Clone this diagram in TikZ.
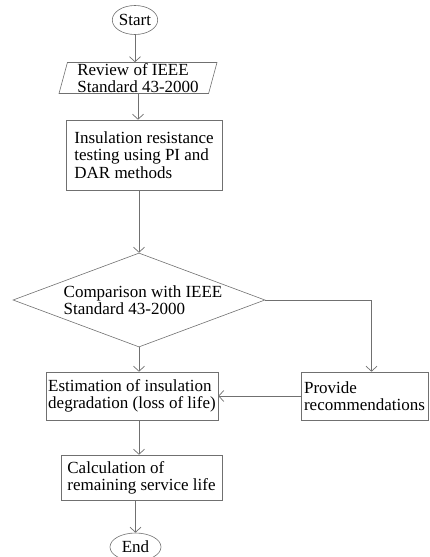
\documentclass[tikz,border=0pt]{standalone}
\usepackage{fontspec}
\setmainfont{Liberation Serif}
\usepackage{tikz}
\usetikzlibrary{shapes.geometric,arrows.meta}
\definecolor{linegray}{RGB}{112,112,112}
\tikzset{
	terminal/.style={
		ellipse,
		draw=linegray,
		line width=0.6pt,
		inner sep=0pt
	},
	process/.style={
		rectangle,
		draw=linegray,
		line width=0.6pt,
		align=left,
		inner sep=2pt
	},
	dataio/.style={
		trapezium,
		draw=linegray,
		line width=0.6pt,
		trapezium left angle=74,
		trapezium right angle=106,
		trapezium stretches body=true,
		align=left,
		inner ysep=0pt
	},
	decision/.style={
		diamond,
		draw=linegray,
		line width=0.6pt,
		shape aspect=2.65,
		align=left,
		inner sep=0pt
	},
	flow/.style={
		draw=linegray,
		line width=0.7pt,
		-{Straight Barb[length=5pt,width=11pt]}
	},
}

\begin{document}
\begin{tikzpicture}[x=1pt,y=-1pt,font=\fontsize{17}{17.2}\selectfont]
\useasboundingbox (0,0) rectangle (429,557);

\node[terminal, minimum width=44pt, minimum height=29pt] (start) at (135,20) {Start};
	\node[dataio, minimum width=158pt, minimum height=31pt] (review) at (138,78) {Review of IEEE\\Standard 43-2000};
		\node[process, minimum width=156pt, minimum height=70pt] (testing) at (144,155) {Insulation resistance\\testing using PI and\\DAR methods};
			\node[decision, minimum width=252pt, minimum height=94pt] (compare) at (139,300) {\hspace*{8pt}Comparison with IEEE\\\hspace*{8pt}Standard 43-2000};
				\node[process, minimum width=172pt, minimum height=48pt] (estimate) at (132,396) {Estimation of insulation\\degradation (loss of life)};
				\node[process, minimum width=127pt, minimum height=48pt] (advice) at (364.5,396) {Provide\\recommendations};
					\node[process, minimum width=161pt, minimum height=45pt] (remaining) at (141.5,477.5) {Calculation of\\remaining service life};
						\node[terminal, minimum width=51pt, minimum height=28pt] (end) at (135.5,547) {End};

\draw[flow] (start) -- (start |- review.north);
\draw[flow] (review.south) -- (review.south |- testing.north);
\draw[flow] (testing.south -| compare.north) -- (compare.north);
\draw[flow] (compare.south) -- (compare.south |- estimate.north);
\draw[flow] (compare.east) -| ([xshift=7pt]advice.north);
\draw[flow] (advice.west) -- (estimate.east);
\draw[flow] (estimate.south -| compare.south) -- (compare.south |- remaining.north);
\draw[flow] (remaining.south -| end.north) -- (end.north);
\end{tikzpicture}
\end{document}
